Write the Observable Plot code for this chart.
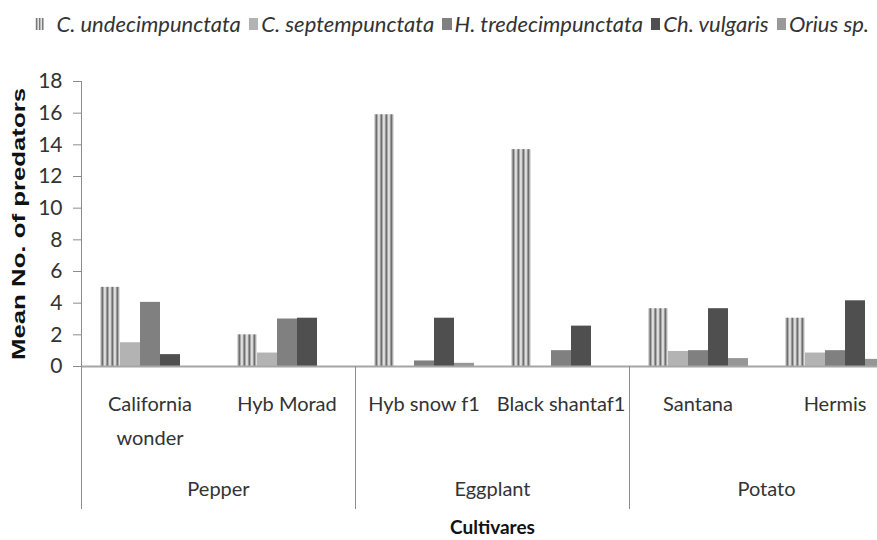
<!DOCTYPE html>
<html>
<head>
<meta charset="utf-8">
<script src="https://cdn.jsdelivr.net/npm/d3@7"></script>
<script src="https://cdn.jsdelivr.net/npm/@observablehq/plot@0.6"></script>
<style>
  html, body { margin: 0; padding: 0; background: #fff; overflow: hidden; width: 877px; height: 540px; }
  #legend { height: 50px; display: flex; align-items: center; padding-left: 35px; font-family: Lato, sans-serif; font-style: italic; font-size: 22px; color: #333; white-space: nowrap; box-sizing: border-box; padding-bottom: 3px; }
  #legend .sw { display: inline-block; width: 11px; height: 12px; margin-right: 3px; }
  #legend .sw.first { margin-right: 12px; background: repeating-linear-gradient(90deg, #e2e2e2 0 1px, #7a7a7a 1px 2px, #b8b8b8 2px 3px); }
  #legend .lab { margin-right: 8px; }
  #chart { width: 903px; }
  #chart svg { max-width: none !important; }
</style>
</head>
<body>
<div id="legend"></div>
<div id="chart"></div>
<script>
// ---- data ----
const cultivars = ["California wonder", "Hyb Morad", "Hyb snow f1", "Black shantaf1", "Santana", "Hermis"];
const cultivarLabels = ["California\nwonder", "Hyb Morad", "Hyb snow f1", "Black shantaf1", "Santana", "Hermis"];
const crops = ["Pepper", "Eggplant", "Potato"];
const cropFirstCultivar = ["California wonder", "Hyb snow f1", "Santana"];
const species = ["C. undecimpunctata", "C. septempunctata", "H. tredecimpunctata", "Ch. vulgaris", "Orius sp."];
const cUndecimpunctata = [5.0, 2.0, 15.9, 13.7, 3.65, 3.05];
const cSeptempunctata = [1.5, 0.85, 0, 0, 0.95, 0.85];
const hTredecimpunctata = [4.05, 3.0, 0.35, 1.0, 1.0, 1.0];
const chVulgaris = [0.75, 3.05, 3.05, 2.55, 3.65, 4.15];
const oriusSp = [0, 0, 0.2, 0, 0.5, 0.45];
const yTicks = [0, 2, 4, 6, 8, 10, 12, 14, 16, 18];
const yTitle = "Mean No. of predators";
const xTitle = "Cultivares";

const seriesValues = [cUndecimpunctata, cSeptempunctata, hTredecimpunctata, chVulgaris, oriusSp];
const fills = ["url(#cu-stripes)", "#b3b3b3", "#808080", "#4f4f4f", "#969696"];
const legendFills = [null, "#b3b3b3", "#808080", "#505050", "#999999"];

const rows = [];
cultivars.forEach((c, i) => species.forEach((s, j) => rows.push({cultivar: c, species: s, value: seriesValues[j][i]})));

// ---- legend ----
const legend = document.getElementById("legend");
species.forEach((s, j) => {
  const sw = document.createElement("span");
  sw.className = "sw" + (j === 0 ? " first" : "");
  if (legendFills[j]) sw.style.background = legendFills[j];
  const lab = document.createElement("span");
  lab.className = "lab";
  lab.textContent = s;
  legend.appendChild(sw);
  legend.appendChild(lab);
});

// ---- chart ----
const grey = "#8c8c8c";
const svg = Plot.plot({
  width: 903,
  height: 490,
  marginTop: 31,
  marginBottom: 174,
  marginLeft: 81,
  marginRight: 0,
  style: {fontFamily: "Lato, sans-serif", fontSize: "20px", color: "#333", background: "white", overflow: "visible", maxWidth: "none"},
  fx: {domain: cultivars, padding: 0, axis: null, label: null},
  x: {domain: species, axis: null, paddingInner: 0, paddingOuter: 0.762},
  y: {domain: [0, 18], label: null},
  color: {domain: species, range: fills},
  marks: [
    Plot.axisY({ticks: yTicks, tickSize: 8, tickPadding: 11, fontSize: 21, stroke: grey, fill: "#333", label: null}),
    Plot.barY(rows.filter(d => d.value > 0), {fx: "cultivar", x: "species", y: "value", fill: "species"}),
    Plot.ruleY([0], {stroke: "#a6a6a6", strokeWidth: 2}),
    // y axis line, extended below the plot
    Plot.frame({anchor: "left", fx: () => cultivars[0], stroke: grey, insetBottom: -142}),
    // group separators below the axis
    Plot.frame({anchor: "left", fx: () => cropFirstCultivar[1], stroke: grey, insetTop: 285, insetBottom: -142}),
    Plot.frame({anchor: "left", fx: () => cropFirstCultivar[2], stroke: grey, insetTop: 285, insetBottom: -142}),
    // cultivar labels
    Plot.text(cultivars, {fx: d => d, text: (d, i) => cultivarLabels[i], frameAnchor: "bottom", textAnchor: "middle", lineAnchor: "top", dy: 20, lineHeight: 1.7, fontSize: 20, fill: "#333"}),
    // crop labels
    Plot.text(crops, {fx: (d, i) => cropFirstCultivar[i], text: d => d, frameAnchor: "bottom-right", textAnchor: "middle", lineAnchor: "top", dy: 115, fontSize: 20, fill: "#333"}),
    // axis titles
    Plot.text([xTitle], {fx: () => cultivars[2], text: d => d, frameAnchor: "bottom-right", textAnchor: "middle", lineAnchor: "top", dy: 154, fontSize: 19, fontWeight: "bold", fill: "#111"}),
    Plot.text([yTitle], {fx: () => cultivars[0], text: d => d, frameAnchor: "left", rotate: -90, dx: -63, textAnchor: "middle", lineAnchor: "middle", fontSize: 19, fontWeight: "bold", fontFamily: "'Liberation Sans', Arial, sans-serif", fill: "#111"})
  ]
});
svg.style.maxWidth = "none";
svg.setAttribute("width", 903);
svg.setAttribute("height", 490);

// stripe pattern for C. undecimpunctata
const defs = d3.select(svg).insert("defs", ":first-child");
const pat = defs.append("pattern").attr("id", "cu-stripes").attr("patternUnits", "userSpaceOnUse").attr("width", 5).attr("height", 10);
[["#d6d6d6", 0], ["#9a9a9a", 1], ["#6e6e6e", 2], ["#ababab", 3], ["#dedede", 4]].forEach(([c, x]) => pat.append("rect").attr("x", x).attr("y", 0).attr("width", 1).attr("height", 10).attr("fill", c));

d3.select(svg).selectAll("text").filter(function() { return this.textContent === yTitle; })
  .attr("textLength", 272).attr("lengthAdjust", "spacingAndGlyphs");

document.getElementById("chart").appendChild(svg);
</script>
</body>
</html>
